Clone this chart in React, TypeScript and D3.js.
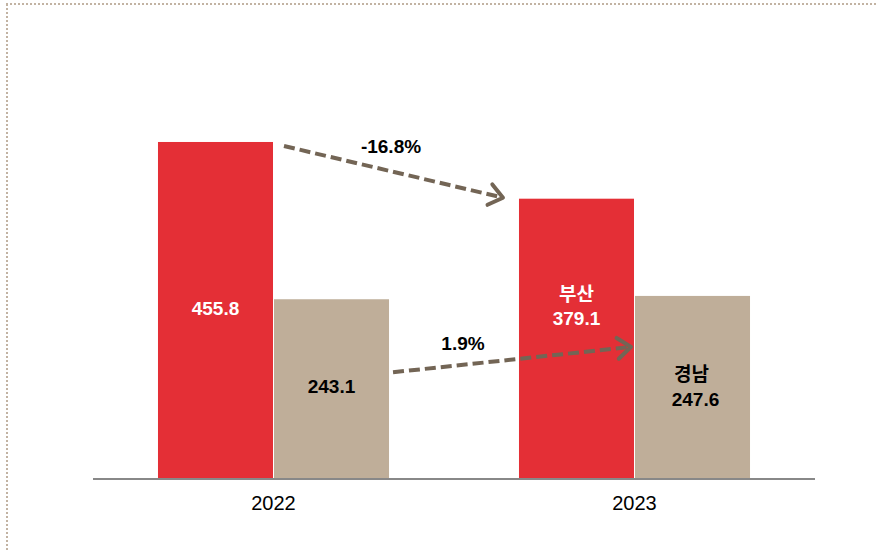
import * as d3 from 'd3';

const years = ['2022', '2023'];
const regions = ['부산', '경남'];
const busan = [455.8, 379.1];
const gyeongnam = [243.1, 247.6];
const changes = ['-16.8%', '1.9%'];

const colors = ['#e42f36', '#bfae99'];
const arrowColor = '#736555';

const width = 876;
const height = 552;

export default function App() {
  const x0 = d3
    .scaleBand<string>()
    .domain(years)
    .range([93, 815])
    .paddingInner(0.36)
    .paddingOuter(0.18);
  const x1 = d3
    .scaleBand<string>()
    .domain(regions)
    .range([0, x0.bandwidth()])
    .paddingInner(0.0087);
  const y = d3.scaleLinear().domain([0, 500]).range([479, 109.3]);

  const series = [busan, gyeongnam];
  const bw = x1.bandwidth();

  const barX = (yi: number, ri: number) => (x0(years[yi]) || 0) + (x1(regions[ri]) || 0);

  // arrow end points, derived from bars
  const arrows = [
    {
      x1: barX(0, 0) + bw + 11,
      y1: y(busan[0]) + 4,
      x2: barX(1, 0) - 16,
      y2: y(busan[1]) - 1,
      label: changes[0],
      lx: 391,
      ly: 148,
    },
    {
      x1: barX(0, 1) + bw + 4,
      y1: y(gyeongnam[0]) + 73,
      x2: barX(1, 1) - 4,
      y2: y(gyeongnam[1]) + 51,
      label: changes[1],
      lx: 463,
      ly: 345,
    },
  ];

  const head = (a: { x1: number; y1: number; x2: number; y2: number }) => {
    const ang = Math.atan2(a.y2 - a.y1, a.x2 - a.x1);
    const len = 17;
    const spread = (38 * Math.PI) / 180;
    const p1 = [a.x2 - len * Math.cos(ang - spread), a.y2 - len * Math.sin(ang - spread)];
    const p2 = [a.x2 - len * Math.cos(ang + spread), a.y2 - len * Math.sin(ang + spread)];
    return `M${p1[0]},${p1[1]}L${a.x2},${a.y2}L${p2[0]},${p2[1]}`;
  };

  const font = 'Liberation Sans, Arial, sans-serif';
  const kfont = `${font}, Noto Sans CJK KR`;
  const fs = 19;

  return (
    <svg
      width={width}
      height={height}
      style={{ position: 'absolute', left: 0, top: 0, background: '#fff' }}
      fontFamily={font}
    >
      {/* dotted frame */}
      <line x1={6} y1={4} x2={width} y2={4} stroke="#c2b3a3" strokeWidth={2} strokeDasharray="2 2" />
      <line x1={7} y1={4} x2={7} y2={height} stroke="#c2b3a3" strokeWidth={2} strokeDasharray="2 2" />

      {years.map((yr, yi) => (
        <g key={yr}>
          {series.map((vals, ri) => (
            <rect
              key={regions[ri]}
              x={barX(yi, ri)}
              y={y(vals[yi])}
              width={bw}
              height={y(0) - y(vals[yi])}
              fill={colors[ri]}
            />
          ))}
          <text
            x={(x0(yr) || 0) + x0.bandwidth() / 2}
            y={505}
            textAnchor="middle"
            dominantBaseline="middle"
            fontSize={20}
            fill="#000"
          >
            {yr}
          </text>
        </g>
      ))}

      {/* value labels */}
      <text x={barX(0, 0) + bw / 2} y={310} textAnchor="middle" dominantBaseline="middle" fontSize={fs} fontWeight="bold" fill="#fff">
        {busan[0]}
      </text>
      <text x={barX(0, 1) + bw / 2} y={388} textAnchor="middle" dominantBaseline="middle" fontSize={fs} fontWeight="bold" fill="#000">
        {gyeongnam[0]}
      </text>
      <text x={barX(1, 0) + bw / 2} y={296} textAnchor="middle" dominantBaseline="middle" fontSize={fs} fontWeight="bold" fill="#fff" fontFamily={kfont}>
        {regions[0]}
      </text>
      <text x={barX(1, 0) + bw / 2} y={320} textAnchor="middle" dominantBaseline="middle" fontSize={fs} fontWeight="bold" fill="#fff">
        {busan[1]}
      </text>
      <text x={barX(1, 1) + bw / 2 - 1} y={376} textAnchor="middle" dominantBaseline="middle" fontSize={fs} fontWeight="bold" fill="#000" fontFamily={kfont}>
        {regions[1]}
      </text>
      <text x={barX(1, 1) + bw / 2 + 3} y={401} textAnchor="middle" dominantBaseline="middle" fontSize={fs} fontWeight="bold" fill="#000">
        {gyeongnam[1]}
      </text>

      {/* axis */}
      <line x1={93} x2={815} y1={y(0)} y2={y(0)} stroke="#888" strokeWidth={2} />

      {/* change arrows */}
      {arrows.map((a) => (
        <g key={a.label}>
          <line
            x1={a.x1}
            y1={a.y1}
            x2={a.x2 - 3}
            y2={a.y2 - ((a.y2 - a.y1) / (a.x2 - a.x1)) * 3}
            stroke={arrowColor}
            strokeWidth={4}
            strokeDasharray="11 5"
          />
          <path d={head(a)} fill="none" stroke={arrowColor} strokeWidth={4} strokeLinecap="round" strokeLinejoin="round" />
          <text x={a.lx} y={a.ly} textAnchor="middle" dominantBaseline="middle" fontSize={fs} fontWeight="bold" fill="#000">
            {a.label}
          </text>
        </g>
      ))}
    </svg>
  );
}
